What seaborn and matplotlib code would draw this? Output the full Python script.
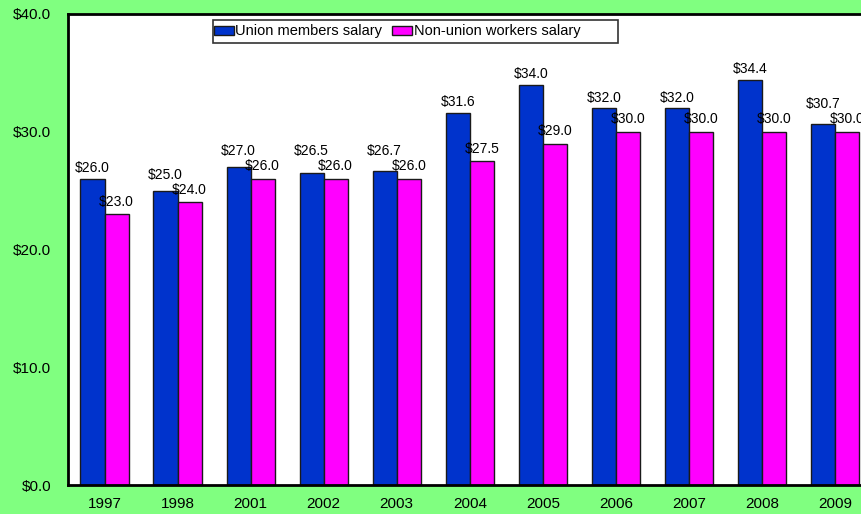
import matplotlib
matplotlib.use("Agg")
import matplotlib.pyplot as plt
from matplotlib.patches import Rectangle
import seaborn as sns
import pandas as pd

years = ["1997", "1998", "2001", "2002", "2003", "2004", "2005", "2006", "2007", "2008", "2009"]
union_salary = [26.0, 25.0, 27.0, 26.5, 26.7, 31.6, 34.0, 32.0, 32.0, 34.4, 30.7]
nonunion_salary = [23.0, 24.0, 26.0, 26.0, 26.0, 27.5, 29.0, 30.0, 30.0, 30.0, 30.0]
series_names = ["Union members salary", "Non-union workers salary"]
y_ticks = [0, 10, 20, 30, 40]

df = pd.DataFrame({
    "year": years * 2,
    "salary": union_salary + nonunion_salary,
    "series": [series_names[0]] * len(years) + [series_names[1]] * len(years),
})

sns.set_theme(style="white")
plt.rcParams["font.family"] = ["Liberation Sans", "DejaVu Sans"]

DPI = 100
W, H = 862, 514
AX_L, AX_B, AX_W, AX_H = 68, 29, 803.5, 471
AX_TOP = H - AX_B - AX_H  # pixel row of the top spine


def px_to_axes(x_px, y_px):
    """Figure pixel (from top-left) to axes fraction."""
    return (x_px - AX_L) / AX_W, (H - AX_B - y_px) / AX_H


fig = plt.figure(figsize=(W / DPI, H / DPI), dpi=DPI, facecolor="#80FF80")
ax = fig.add_axes([AX_L / W, AX_B / H, AX_W / W, AX_H / H])
ax.set_facecolor("white")

palette = {series_names[0]: "#0033CC", series_names[1]: "#FF00FF"}
sns.barplot(data=df, x="year", y="salary", hue="series", palette=palette,
            width=0.66, edgecolor="#1a1a1a", linewidth=1.0, saturation=1,
            ax=ax, errorbar=None, legend=True)

ax.set_ylim(0, 40)
ax.set_xlim(-0.5, len(years) - 0.5)

# value labels: non-union label sits above its bar; the union label is lifted
# when needed so it clears the neighbouring non-union label
px_per_unit = AX_H / 40.0
pt_per_px = 72.0 / DPI
label_fs = 10
union_bars, nonunion_bars = ax.containers[0], ax.containers[1]
for ub, nb in zip(union_bars, nonunion_bars):
    uh, nh = ub.get_height(), nb.get_height()
    n_gap = 8.5
    u_gap = max(6.5, (nh - uh) * px_per_unit + n_gap + 10 + 5)
    ax.annotate(f"${nh:.1f}", xy=(nb.get_x() + nb.get_width() / 2, nh),
                xytext=(0, n_gap * pt_per_px), textcoords="offset points",
                ha="center", va="baseline", fontsize=label_fs, color="black")
    ax.annotate(f"${uh:.1f}", xy=(ub.get_x() + ub.get_width() / 2, uh),
                xytext=(0, u_gap * pt_per_px), textcoords="offset points",
                ha="center", va="baseline", fontsize=label_fs, color="black")

ax.set_yticks(y_ticks)
ax.set_yticklabels([f"${v:.1f}" for v in y_ticks], fontsize=11, color="black")
ax.tick_params(axis="y", length=0, pad=12)
ax.tick_params(axis="x", length=0, pad=9, labelsize=11, labelcolor="black")
ax.set_xlabel("")
ax.set_ylabel("")

for side in ["left", "bottom", "top", "right"]:
    ax.spines[side].set_visible(True)
    ax.spines[side].set_color("black")
    ax.spines[side].set_linewidth(2)

# legend entries, then the wide box drawn around them
leg_fs = 10.5
leg = ax.legend(loc="center left", bbox_to_anchor=px_to_axes(214, 31.5),
                ncol=2, frameon=False, fontsize=leg_fs,
                handlelength=1.37, handleheight=0.6, handletextpad=0.1,
                columnspacing=0.68, borderpad=0, borderaxespad=0)
for t in leg.get_texts():
    t.set_color("black")
for h in leg.legend_handles:
    h.set_edgecolor("#1a1a1a")
    h.set_linewidth(1.0)

bx0, by0 = px_to_axes(213, 43)
bx1, by1 = px_to_axes(618, 20)
ax.add_patch(Rectangle((bx0, by0), bx1 - bx0, by1 - by0,
                       transform=ax.transAxes, facecolor="none",
                       edgecolor="#333333", linewidth=1.2, zorder=5))

fig.savefig("out.png", dpi=DPI, facecolor=fig.get_facecolor())
